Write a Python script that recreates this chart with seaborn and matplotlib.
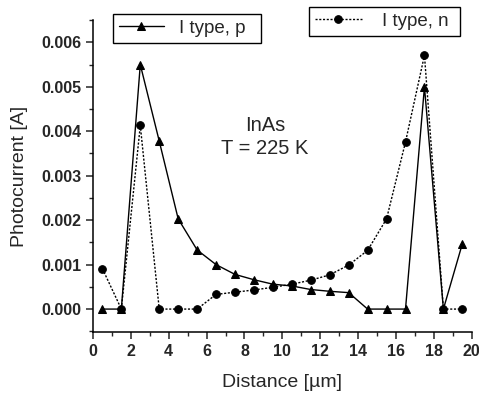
# Photocurrent profile, InAs at 225 K
import numpy as np
import pandas as pd
import seaborn as sns
import matplotlib
matplotlib.use("Agg")
import matplotlib.pyplot as plt
from matplotlib.ticker import MultipleLocator, FormatStrFormatter

# Data
distance = [0.5, 1.5, 2.5, 3.5, 4.5, 5.5, 6.5, 7.5, 8.5, 9.5,
            10.5, 11.5, 12.5, 13.5, 14.5, 15.5, 16.5, 17.5, 18.5, 19.5]
p_type = [0.0, 0.0, 0.0055, 0.00378, 0.00203, 0.00133, 0.00100, 0.00078, 0.00066, 0.00056,
          0.00052, 0.00044, 0.00040, 0.00037, 0.0, 0.0, 0.0, 0.00500, 0.0, 0.00147]
n_type = [0.00091, 0.0, 0.00413, 0.0, 0.0, 0.0, 0.00033, 0.00038, 0.00043, 0.00049,
          0.00056, 0.00065, 0.00077, 0.00099, 0.00132, 0.00203, 0.00376, 0.00571, 0.0, 0.0]

label_p = "I type, p"
label_n = "I type, n"

df = pd.DataFrame({"Distance": distance, "p": p_type, "n": n_type})

sns.set_style("ticks")
plt.rcParams["font.family"] = ["Liberation Sans", "DejaVu Sans"]

fig = plt.figure(figsize=(4.79, 3.95), dpi=100)
ax = fig.add_axes([0.194, 0.159, 0.791, 0.790])

sns.lineplot(data=df, x="Distance", y="p", ax=ax, color="black", linewidth=1.0,
             marker="^", markersize=6, markeredgecolor="black", label=label_p, legend=False)
sns.lineplot(data=df, x="Distance", y="n", ax=ax, color="black", linewidth=1.0,
             linestyle=(0, (1.5, 1.2)), marker="o", markersize=5.5,
             markeredgecolor="black", label=label_n, legend=False)

ax.set_xlim(0, 20)
ax.set_ylim(-0.00052, 0.0065)
ax.xaxis.set_major_locator(MultipleLocator(2))
ax.xaxis.set_minor_locator(MultipleLocator(1))
ax.yaxis.set_major_locator(MultipleLocator(0.001))
ax.yaxis.set_minor_locator(MultipleLocator(0.0005))
ax.yaxis.set_major_formatter(FormatStrFormatter("%.3f"))

ax.tick_params(which="major", direction="out", length=5, width=1.1, labelsize=11.5)
ax.tick_params(which="minor", direction="out", length=3, width=1.0)
for lab in ax.get_xticklabels() + ax.get_yticklabels():
    lab.set_fontweight("bold")

for side in ["top", "right"]:
    ax.spines[side].set_visible(False)
for side in ["left", "bottom"]:
    ax.spines[side].set_linewidth(1.1)
    ax.spines[side].set_color("black")

ax.set_xlabel("Distance [\u00b5m]", fontsize=14, labelpad=11)
ax.set_ylabel("Photocurrent [A]", fontsize=14, labelpad=9)

ax.text(0.454, 0.625, "InAs\nT = 225 K", transform=ax.transAxes, ha="center", va="center",
        fontsize=14.5, linespacing=1.3)

handles = ax.get_lines()
leg1 = fig.legend([handles[0]], [label_p + "  "], loc="center", bbox_to_anchor=(0.391, 0.928),
                  fancybox=False, edgecolor="black", framealpha=1, fontsize=13.5,
                  handlelength=2.4, handletextpad=0.8, borderpad=0.3, borderaxespad=0)
leg1.get_frame().set_linewidth(1.0)
leg2 = fig.legend([handles[1]], [label_n + " "], loc="center", bbox_to_anchor=(0.803, 0.946),
                  fancybox=False, edgecolor="black", framealpha=1, fontsize=13.5,
                  handlelength=2.5, handletextpad=1.1, borderpad=0.3, borderaxespad=0)
leg2.get_frame().set_linewidth(1.0)

fig.savefig("out.png", dpi=100)
